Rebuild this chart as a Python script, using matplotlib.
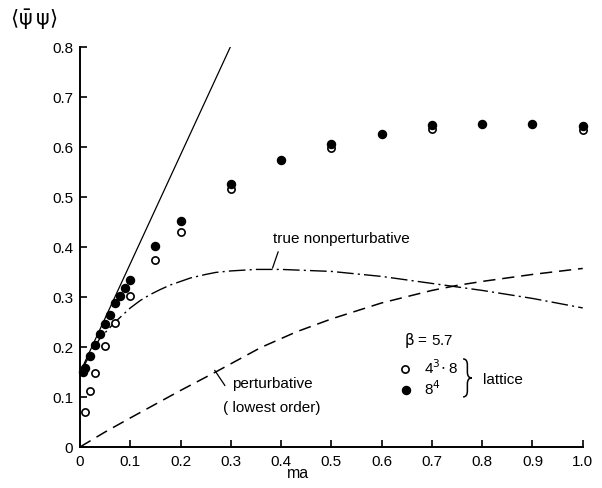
import numpy as np
import matplotlib.pyplot as plt
from matplotlib.path import Path
from matplotlib.patches import PathPatch

plt.rcParams['font.family'] = ['Liberation Sans', 'DejaVu Sans']
plt.rcParams['mathtext.fontset'] = 'dejavusans'

# lattice data, beta = 5.7
ma_84 = [0.005, 0.01, 0.02, 0.03, 0.04, 0.05, 0.06, 0.07, 0.08, 0.09, 0.10,
         0.15, 0.2, 0.3, 0.4, 0.5, 0.6, 0.7, 0.8, 0.9, 1.0]
pbp_84 = [0.150, 0.157, 0.181, 0.203, 0.225, 0.245, 0.264, 0.287, 0.301, 0.318, 0.333,
          0.401, 0.451, 0.526, 0.573, 0.606, 0.626, 0.644, 0.646, 0.646, 0.641]

ma_438 = [0.01, 0.02, 0.03, 0.05, 0.07, 0.10, 0.15, 0.2, 0.3, 0.5, 0.7, 1.0]
pbp_438 = [0.069, 0.111, 0.147, 0.201, 0.247, 0.301, 0.374, 0.429, 0.515, 0.597, 0.636, 0.634]

# straight line through the small-mass points
ma_lin = [0.0, 0.299]
pbp_lin = [0.149, 0.80]

# true nonperturbative curve
ma_np = [0.0, 0.02, 0.04, 0.07, 0.10, 0.12, 0.14, 0.16, 0.18, 0.20, 0.22, 0.25, 0.27,
         0.30, 0.35, 0.40, 0.50, 0.60, 0.70, 0.80, 0.90, 1.0]
pbp_np = [0.148, 0.185, 0.218, 0.250, 0.278, 0.293, 0.305, 0.315, 0.324, 0.331, 0.338, 0.345, 0.349,
          0.352, 0.355, 0.355, 0.351, 0.341, 0.327, 0.313, 0.297, 0.278]

# perturbative (lowest order)
ma_pt = [0.0, 0.05, 0.10, 0.20, 0.27, 0.36, 0.43, 0.50, 0.60, 0.70, 0.75, 0.80, 0.90, 1.0]
pbp_pt = [0.0, 0.030, 0.058, 0.113, 0.150, 0.199, 0.230, 0.256, 0.288, 0.313, 0.323, 0.331, 0.345, 0.357]

fig = plt.figure(figsize=(6.02, 4.89), dpi=100)
ax = fig.add_axes([0.133, 0.084, 0.835, 0.818])

ax.plot(ma_lin, pbp_lin, color='black', lw=0.9)
ax.plot(ma_np, pbp_np, color='black', lw=1.0, linestyle=(0, (12, 3, 1.5, 3)))
ax.plot(ma_pt, pbp_pt, color='black', lw=1.1, linestyle=(0, (8, 4.5)))

ax.plot(ma_438, pbp_438, 'o', ms=5.2, mfc='white', mec='black', mew=1.2, clip_on=False, zorder=3)
ax.plot(ma_84, pbp_84, 'o', ms=5.8, mfc='black', mec='black', clip_on=False, zorder=4)

ax.set_xlim(0, 1.0)
ax.set_ylim(0, 0.8)
ax.set_xticks(np.arange(0, 1.01, 0.1))
ax.set_xticklabels(['0'] + [f'{v:.1f}' for v in np.arange(0.1, 1.01, 0.1)])
ax.set_yticks(np.arange(0, 0.81, 0.1))
ax.set_yticklabels(['0'] + [f'{v:.1f}' for v in np.arange(0.1, 0.81, 0.1)])
ax.tick_params(direction='in', length=5, width=1.2, labelsize=11, colors='black')
ax.tick_params(axis='y', pad=5)
ax.tick_params(axis='x', pad=5)
for s in ['top', 'right']:
    ax.spines[s].set_visible(False)
for s in ['left', 'bottom']:
    ax.spines[s].set_linewidth(1.4)

ax.text(0.433, -0.065, 'ma', transform=ax.transAxes, fontsize=11.5, ha='center', va='center')
ax.text(-0.093, 1.07, r'$\langle\mathrm{\bar{\psi}}\,\mathrm{\psi}\rangle$', transform=ax.transAxes,
        fontsize=15, ha='center', va='center')

# curve labels
ax.text(0.384, 0.418, 'true nonperturbative', fontsize=11, va='center')
ax.plot([0.383, 0.394], [0.358, 0.39], color='black', lw=0.9)
ax.text(0.302, 0.127, 'perturbative', fontsize=11, va='center')
ax.text(0.284, 0.080, '( lowest order)', fontsize=11, va='center')
ax.plot([0.268, 0.288], [0.153, 0.123], color='black', lw=0.9)

# legend
ax.text(0.644, 0.214, r'$\mathrm{\beta}$ = 5.7', fontsize=11, va='center')
ax.plot([0.646], [0.156], 'o', ms=5.2, mfc='white', mec='black', mew=1.2)
ax.plot([0.648], [0.114], 'o', ms=5.8, mfc='black', mec='black')
ax.text(0.684, 0.160, r'4$^3\!\cdot$8', fontsize=11, va='center')
ax.text(0.684, 0.118, r'8$^4$', fontsize=11, va='center')

# thin curly brace
bx0, bx1, ytop, ybot = 0.762, 0.779, 0.176, 0.100
ymid = 0.5 * (ytop + ybot)
bxm = 0.5 * (bx0 + bx1)
verts = [(bx0, ytop), (bxm, ytop), (bxm, ytop - 0.012),
         (bxm, ymid + 0.012), (bxm, ymid), (bx1, ymid),
         (bxm, ymid), (bxm, ymid - 0.012),
         (bxm, ybot + 0.012), (bxm, ybot), (bx0, ybot)]
codes = [Path.MOVETO, Path.CURVE3, Path.CURVE3,
         Path.LINETO, Path.CURVE3, Path.CURVE3,
         Path.CURVE3, Path.CURVE3,
         Path.LINETO, Path.CURVE3, Path.CURVE3]
ax.add_patch(PathPatch(Path(verts, codes), fill=False, lw=1.1, color='black'))
ax.text(0.801, 0.136, 'lattice', fontsize=11, va='center')

plt.savefig('out.png', dpi=100)
